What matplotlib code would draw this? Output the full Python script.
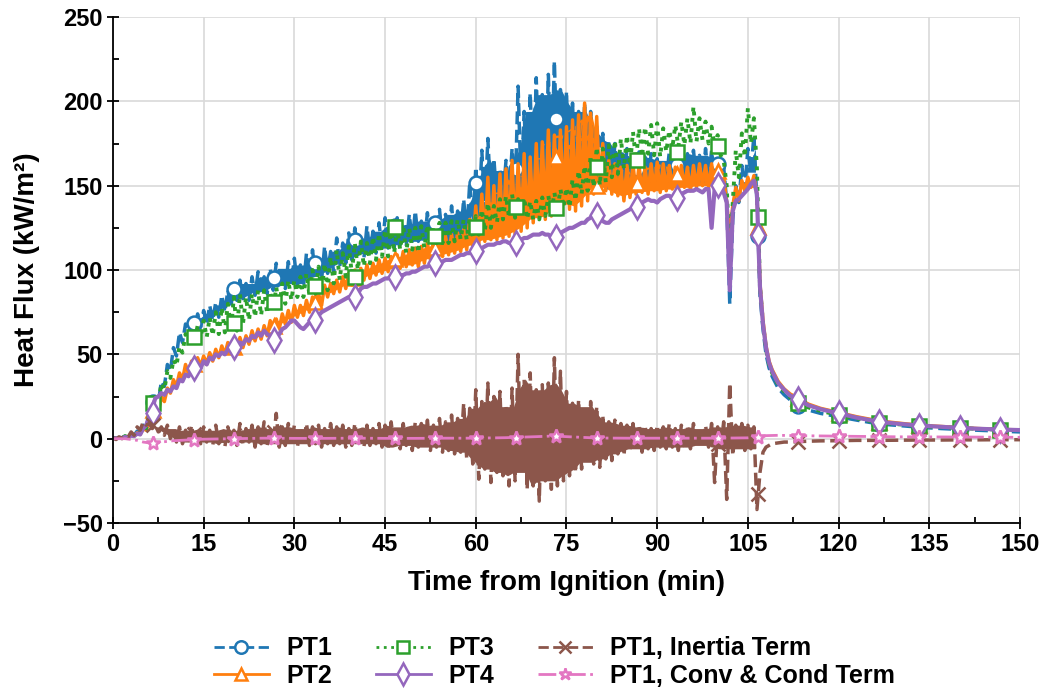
import numpy as np
import matplotlib.pyplot as plt
from matplotlib.lines import Line2D
from matplotlib.ticker import MultipleLocator

plt.rcParams['font.family'] = ['Liberation Sans', 'DejaVu Sans']
plt.rcParams['font.weight'] = 'bold'

# samples every half minute from 0 to 106.5 min, then the decay after the drop
t_main = np.arange(0, 107, 0.5)
t_tail = [106.7, 107, 107.5, 108, 108.5, 109, 110, 111, 112, 113.3, 115, 117,
          120, 123, 126.7, 130, 133.3, 137, 140, 143, 146.7, 150]
# markers every 400 s
t_mark = np.arange(1, 23) * 20 / 3

pt1_main = [0.5, 0.3, 0.8, 0.5, 1.5, 1.0, 2.5, 2.0, 4.5, 3.5,
            8, 7, 15, 13, 24, 21, 34, 31, 44, 40,
            54, 49, 63, 57, 68, 62, 71, 64, 74, 66,
            76, 68, 79, 70, 81, 72, 85, 75, 88, 78,
            92, 82, 94, 83, 92, 82, 96, 85, 99, 87,
            96, 86, 101, 88, 104, 90, 101, 89, 105, 92,
            107, 91, 103, 90, 110, 92, 112, 96, 107, 94,
            114, 98, 111, 99, 119, 102, 116, 104, 122, 106,
            125, 108, 119, 107, 126, 110, 123, 110, 128, 112,
            131, 113, 126, 113, 131, 115, 127, 114, 133, 117,
            135, 117, 129, 116, 134, 118, 130, 117, 136, 118,
            133, 118, 138, 119, 135, 120, 142, 120, 152, 124,
            161, 132, 171, 136, 178, 141, 166, 140, 159, 142,
            165, 141, 172, 145, 209, 150, 194, 149, 205, 152,
            214, 155, 204, 151, 216, 156, 224, 158, 207, 155,
            206, 151, 199, 152, 194, 150, 199, 151, 194, 149,
            185, 148, 181, 148, 177, 150, 175, 150, 170, 150,
            172, 152, 167, 150, 170, 152, 167, 150, 169, 152,
            166, 152, 165, 152, 170, 154, 168, 155, 172, 155,
            169, 154, 171, 154, 168, 152, 172, 153, 171, 152,
            166, 150, 161, 140, 80, 130, 150, 140, 162, 148,
            172, 158, 180, 140]
pt1_tail = [120, 85, 65, 50, 42, 37, 30, 26, 23, 19.4, 17, 15,
            13, 11, 8.7, 7.8, 6.8, 6, 5.5, 5, 4.5, 4]
pt1_mark = [22, 68.5, 88.8, 95, 104, 117.7, 126, 128, 151.5, 160, 189.6,
            170, 160, 162, 163, 120, 19.4, 13.5, 8.5, 6.8, 5.5, 4.5]

pt2_main = [0.5, 0.3, 0.7, 0.5, 1.2, 1.0, 2.0, 1.5, 3.5, 2.5,
            6, 5, 11, 9, 17, 15, 25, 22, 30, 27,
            35, 31, 39, 35, 44, 39, 46, 41, 48, 43,
            49, 44, 51, 46, 53, 48, 55, 50, 57, 51,
            58, 52, 60, 54, 61, 56, 64, 58, 65, 59,
            67, 61, 70, 63, 71, 65, 74, 68, 76, 69,
            79, 72, 79, 73, 82, 75, 84, 77, 86, 79,
            91, 84, 92, 86, 94, 87, 96, 89, 98, 91,
            100, 92, 101, 94, 103, 95, 104, 97, 106, 98,
            107, 99, 108, 100, 109, 101, 111, 102, 112, 103,
            113, 102, 114, 104, 116, 106, 117, 107, 119, 108,
            120, 109, 121, 110, 122, 111, 124, 112, 130, 114,
            138, 115, 145, 117, 155, 118, 150, 118, 157, 119,
            160, 120, 165, 121, 163, 123, 169, 125, 167, 128,
            175, 131, 176, 130, 183, 132, 180, 135, 183, 139,
            185, 136, 189, 135, 192, 138, 199, 141, 193, 145,
            191, 149, 175, 147, 165, 145, 163, 144, 161, 141,
            162, 143, 163, 145, 162, 146, 161, 145, 163, 147,
            164, 146, 163, 147, 162, 148, 161, 147, 162, 149,
            161, 147, 162, 149, 163, 150, 162, 149, 163, 150,
            160, 148, 155, 140, 120, 138, 149, 141, 153, 147,
            155, 149, 156, 145]
pt2_tail = [126, 92, 70, 55, 46, 41, 34, 29.5, 26.5, 24, 20.5, 18,
            15.5, 13, 10.5, 9.2, 8, 7.2, 6.6, 6, 5.5, 5.2]
pt2_mark = [17, 44, 54.5, 67, 81, 95, 106.5, 113, 125, 140, 167,
            150, 151.8, 157, 159, 125.7, 24, 15.5, 10, 8, 6.5, 5.5]

pt3_main = [0.5, 0.3, 0.8, 0.5, 1.5, 1.0, 2.5, 2.0, 4, 3.5,
            8, 6, 15, 12, 23, 20, 33, 29, 40, 36,
            47, 43, 55, 51, 62, 58, 64, 58, 67, 60,
            70, 60, 72, 61, 75, 62, 78, 63, 80, 64,
            84, 64, 86, 68, 84, 70, 86, 72, 88, 73,
            88, 74, 87, 76, 90, 78, 92, 80, 94, 82,
            94, 84, 96, 84, 98, 85, 100, 86, 102, 86,
            104, 88, 108, 92, 112, 94, 110, 96, 114, 98,
            116, 100, 117, 102, 116, 104, 120, 106, 122, 108,
            124, 108, 126, 110, 125, 112, 126, 110, 125, 112,
            125, 110, 126, 113, 127, 115, 126, 116, 128, 116,
            128, 116, 129, 117, 130, 118, 130, 118, 131, 120,
            132, 121, 136, 123, 140, 125, 138, 128, 142, 130,
            144, 131, 145, 131, 142, 132, 143, 130, 141, 130,
            141, 130, 143, 132, 144, 133, 146, 135, 148, 137,
            149, 137, 154, 141, 159, 145, 162, 147, 168, 149,
            173, 150, 172, 152, 174, 155, 177, 157, 178, 160,
            180, 162, 182, 165, 184, 167, 185, 169, 186, 168,
            187, 167, 184, 170, 183, 172, 186, 173, 188, 174,
            190, 175, 197, 176, 190, 177, 188, 175, 185, 173,
            180, 168, 165, 150, 105, 140, 171, 155, 181, 167,
            196, 175, 190, 160]
pt3_tail = [131, 90, 68, 53, 44, 39, 32, 28, 24.5, 21, 18.5, 16.5,
            14, 12, 9.5, 8.5, 7.5, 6.8, 6.3, 5.8, 5.3, 5]
pt3_mark = [21, 60, 68.5, 81, 90.5, 96, 125.5, 120, 125.7, 137.5, 137,
            161, 165, 170, 173.5, 131.6, 21, 14, 9.5, 7.5, 6.3, 5.3]

pt4_main = [0.3, 0.2, 0.5, 0.4, 1.0, 0.8, 1.8, 1.5, 3, 2.5,
            6, 8, 13, 18, 24, 25, 27, 26, 29, 28,
            31, 30, 35, 34, 38, 37, 41, 40, 43, 42,
            46, 44, 48, 47, 50, 49, 51, 50, 53, 52,
            55, 54, 57, 56, 59, 58, 61, 60, 63, 61,
            64, 62, 61, 58, 60, 62, 65, 66, 68, 70,
            70, 68, 66, 65, 67, 69, 70, 72, 73, 75,
            76, 77, 78, 79, 80, 81, 82, 83, 84, 84,
            84, 86, 89, 90, 90, 91, 92, 92, 93, 94,
            95, 95, 96, 96, 96, 97, 97, 98, 98, 99,
            99, 100, 101, 102, 102, 103, 104, 104, 104, 105,
            106, 106, 106, 107, 108, 109, 109, 110, 110, 111,
            111, 112, 113, 114, 115, 115, 115, 116, 116, 117,
            117, 116, 116, 116, 117, 118, 119, 119, 120, 121,
            121, 121, 122, 121, 121, 120, 120, 121, 122, 123,
            124, 125, 125, 126, 127, 128, 128, 130, 131, 132,
            133, 131, 129, 128, 128, 130, 131, 132, 133, 134,
            135, 136, 137, 138, 139, 140, 141, 142, 141, 141,
            140, 142, 143, 144, 144, 143, 142, 143, 145, 146,
            147, 147, 147, 148, 147, 146, 148, 148, 125, 148,
            150, 149, 146, 140, 88, 135, 141, 142, 144, 146,
            148, 151, 153, 145]
pt4_tail = [121, 90, 68, 54, 45, 40, 33, 29, 25.5, 23.5, 19.8, 17.5,
            15, 12.5, 10, 8.8, 7.8, 7, 6.4, 5.9, 5.4, 5.1]
pt4_mark = [15, 41.7, 54.5, 58.5, 70.4, 84.2, 96, 104, 111, 115.8, 119.8,
            132.6, 137.5, 142.5, 150.4, 120.7, 23.5, 15, 9.8, 7.8, 6.4, 5.4]

inert_main = [0.5, -0.5, 1, 0, 2, 1, 4, 2, 7, 5,
              10, 8, 9, 6, 8, 4, 7, 2, 8, 0,
              6, -2, 7, -3, 5, -2, 8, -4, 6, -3,
              7, -2, 5, -4, 8, -3, 6, -5, 7, -2,
              5, -4, 9, -3, 6, -2, 8, -5, 7, -3,
              10, -4, 6, -3, 15, -5, 7, -4, 9, -3,
              8, -5, 6, -3, 9, -4, 7, -3, 8, -5,
              6, -3, 9, -4, 7, -3, 8, -5, 6, -4,
              9, -3, 7, -5, 8, -4, 6, -3, 9, -5,
              8, -6, 10, -5, 7, -6, 9, -4, 8, -7,
              10, -5, 9, -6, 11, -7, 8, -5, 12, -8,
              10, -7, 14, -9, 12, -8, 21, -12, 18, -15,
              29, -24, 22, -18, 33, -26, 25, -20, 28, -22,
              19, -28, 30, -25, 50, -20, 35, -30, 39, -28,
              29, -37, 32, -25, 33, -30, 48, -28, 40, -25,
              28, -22, 21, -20, 23, -18, 19, -14, 22, -15,
              19, -17, 14, -12, 10, -13, 11, -9, 9, -10,
              8, -7, 9, -6, 7, -8, 8, -6, 6, -7,
              8, -5, 7, -6, 9, -5, 6, -7, 8, -5,
              7, -6, 9, -5, 6, -4, 8, -5, 9, -26,
              7, -6, 10, -36, 33, -10, 8, -6, 9, -7,
              8, -6, 7, -42]
inert_tail = [-33, -20, -8, -5, -4, -3, -2.5, -2, -2, -1.8, -1.5, -1.3,
              -1.2, -1, -1, -0.9, -0.8, -0.8, -0.7, -0.7, -0.6, -0.6]
inert_mark = [8, 3, 2, 4, 1, 2, 1, 2, 5, -5, 10, 2, 1, 0, -3, -33,
              -2, -1.2, -1, -0.8, -0.7, -0.6]

t_conv = [0, 2, 4, 5, 6, 7, 8, 10, 15, 20, 25, 30, 35, 40, 45, 50, 55, 60,
          65, 70, 73, 75, 80, 85, 90, 95, 100, 105, 106.5, 108, 110, 113,
          120, 130, 140, 150]
conv = [0, 0, -1, -2, -2.5, -2.5, -2, -1.2, -0.3, 0, 0.3, 0.2, 0.2, 0.3,
        0.2, 0.2, 0.3, 0.3, 0.6, 1.2, 1.6, 1.2, 0.4, 0.3, 0.3, 0.3, 0.3,
        0.5, 1.0, 1.8, 2.0, 1.8, 1.5, 1.1, 1.0, 0.8]
conv_mark = [-2.5, -0.5, 0, 0.3, 0.2, 0.3, 0.2, 0.3, 0.3, 0.6, 1.5,
             0.4, 0.3, 0.3, 0.3, 1.2, 1.8, 1.5, 1.2, 1.0, 1.0, 0.9]

labels = ['PT1', 'PT2', 'PT3', 'PT4', 'PT1, Inertia Term', 'PT1, Conv & Cond Term']

t_all = np.concatenate([t_main, t_tail])
# (times, values, main part, markers, colour, line style, marker, size, width, fill core)
series = [
    (t_all, pt1_main + pt1_tail, pt1_main, pt1_mark, '#1f77b4', '--', 'o', 10, 2.5, True),
    (t_all, pt2_main + pt2_tail, pt2_main, pt2_mark, '#ff7f0e', '-', '^', 10, 2.5, True),
    (t_all, pt3_main + pt3_tail, pt3_main, pt3_mark, '#2ca02c', ':', 's', 10, 2.8, False),
    (t_all, pt4_main + pt4_tail, pt4_main, pt4_mark, '#9467bd', '-', 'd', 12, 3.0, False),
    (t_all, inert_main + inert_tail, inert_main, inert_mark, '#8c564b', '--', 'x', 10, 2.5, True),
    (t_conv, conv, None, conv_mark, '#e377c2', '-.', '*', 10, 2.0, False),
]


def core_band(main):
    # solid middle of a noisy trace: lowest of three neighbouring highs,
    # highest of three neighbouring lows
    hi = np.pad(np.array(main[0::2], float), 1, mode='edge')
    lo = np.pad(np.array(main[1::2], float), 1, mode='edge')
    top = np.minimum(np.minimum(hi[:-2], hi[1:-1]), hi[2:])
    bot = np.maximum(np.maximum(lo[:-2], lo[1:-1]), lo[2:])
    return bot, np.maximum(top, bot)


fig = plt.figure(figsize=(10.44, 6.92), dpi=100)
ax = fig.add_axes([0.1082, 0.2442, 0.8688, 0.7312])

handles = []
for (tt, yy, main, mm, c, ls, mk, ms, lw, band), lab in zip(series, labels):
    if band:
        bot, top = core_band(main)
        ax.fill_between(t_main[0::2] + 0.25, bot, top, color=c, lw=0)
    ax.plot(tt, yy, color=c, ls=ls, lw=lw)
    ax.plot(t_mark, mm, ls='none', marker=mk, ms=ms, mfc='white', mec=c, mew=1.8)
    handles.append(Line2D([], [], color=c, ls=ls, lw=2, marker=mk, ms=ms - 1,
                          mfc='white', mec=c, mew=1.8, label=lab))

ax.set_xlim(0, 150)
ax.set_ylim(-50, 250)
ax.xaxis.set_major_locator(MultipleLocator(15))
ax.xaxis.set_minor_locator(MultipleLocator(7.5))
ax.yaxis.set_minor_locator(MultipleLocator(25))
ax.set_yticks([-50, 0, 50, 100, 150, 200, 250])
ax.set_yticklabels(['\u221250', '0', '50', '100', '150', '200', '250'])
ax.tick_params(which='major', direction='inout', length=8, width=1.3, labelsize=17)
ax.tick_params(which='minor', direction='in', length=4, width=1.3)
for lab in ax.get_xticklabels() + ax.get_yticklabels():
    lab.set_fontweight('bold')
ax.grid(True, which='major', color='#d9d9d9', lw=1.2)
ax.set_axisbelow(True)
for s in ['top', 'right']:
    ax.spines[s].set_visible(False)
for s in ['left', 'bottom']:
    ax.spines[s].set_linewidth(1.3)

ax.set_xlabel('Time from Ignition (min)', fontsize=20, fontweight='bold', labelpad=10)
ax.set_ylabel('Heat Flux (kW/m\u00b2)', fontsize=20, fontweight='bold', labelpad=16)

fig.legend(handles=handles, loc='center', bbox_to_anchor=(0.531, 0.043),
           ncol=3, frameon=False, handlelength=2.2, handletextpad=0.7,
           columnspacing=1.75, labelspacing=0.15,
           prop={'weight': 'bold', 'size': 18})

fig.savefig('out.png', dpi=100)
